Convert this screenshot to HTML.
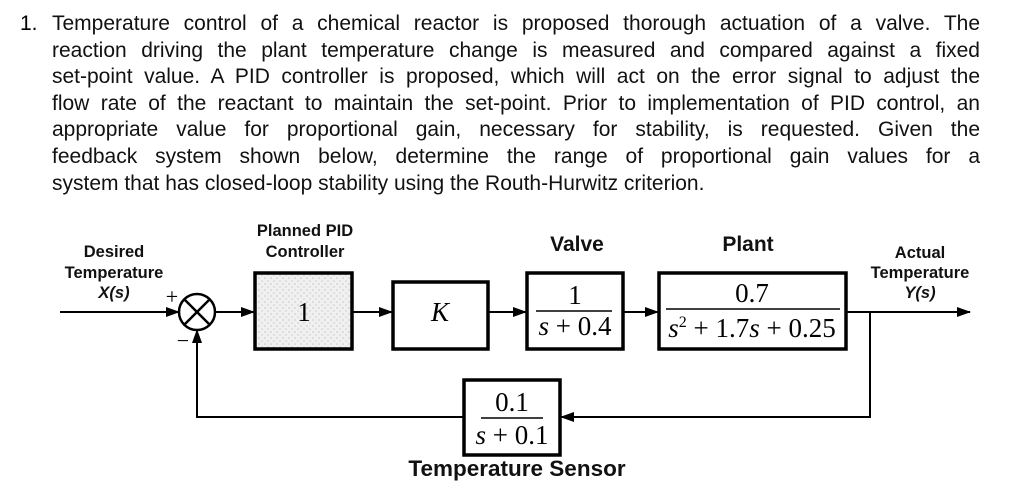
<!DOCTYPE html>
<html><head><style>
body{margin:0;width:1024px;height:489px;background:#fff;overflow:hidden;position:relative;font-family:"Liberation Sans",Arial,sans-serif}
#p{position:absolute;left:52px;top:11px;width:928px;font-size:21px;line-height:26.6px;color:#111}
#p div{text-align:justify;text-align-last:justify;white-space:nowrap}
#p div.l{text-align-last:left}
#n{position:absolute;left:20px;top:11px;font-size:21px;line-height:26.6px}
</style></head><body>
<div id="n">1.</div>
<div id="p">
<div>Temperature control of a chemical reactor is proposed thorough actuation of a valve. The</div>
<div>reaction driving the plant temperature change is measured and compared against a fixed</div>
<div>set-point value. A PID controller is proposed, which will act on the error signal to adjust the</div>
<div>flow rate of the reactant to maintain the set-point. Prior to implementation of PID control, an</div>
<div>appropriate value for proportional gain, necessary for stability, is requested. Given the</div>
<div>feedback system shown below, determine the range of proportional gain values for a</div>
<div class="l">system that has closed-loop stability using the Routh-Hurwitz criterion.</div>
</div>
<svg width="1024" height="489" style="position:absolute;left:0;top:0">
<defs>
<pattern id="dots" width="6" height="6" patternUnits="userSpaceOnUse"><rect width="6" height="6" fill="#f0f0f0"/><circle cx="1" cy="2" r="0.5" fill="#888"/><circle cx="4" cy="5" r="0.5" fill="#999"/></pattern>
<marker id="a" markerWidth="14" markerHeight="10" refX="13" refY="5" orient="auto" markerUnits="userSpaceOnUse"><path d="M0,0 L14,5 L0,10 z" fill="#000"/></marker>
</defs>
<g stroke="#000" stroke-width="2" fill="none">
<line x1="60" y1="312" x2="179" y2="312" marker-end="url(#a)"/>
<circle cx="197" cy="312" r="18" fill="#fff" stroke-width="2.5"/>
<line x1="184" y1="299" x2="210" y2="325" stroke-width="2.5"/><line x1="210" y1="299" x2="184" y2="325" stroke-width="2.5"/>
<line x1="215" y1="312" x2="254" y2="312" marker-end="url(#a)"/>
<line x1="353" y1="312" x2="392" y2="312" marker-end="url(#a)"/>
<line x1="489" y1="312" x2="526" y2="312" marker-end="url(#a)"/>
<line x1="624" y1="312" x2="658" y2="312" marker-end="url(#a)"/>
<line x1="847" y1="312" x2="970" y2="312" marker-end="url(#a)"/>
<polyline points="870,312 870,417 561,417" marker-end="url(#a)"/>
<polyline points="463,417 197,417 197,330" marker-end="url(#a)"/>
</g>
<g stroke="#000" stroke-width="3.5">
<rect x="255" y="273" width="97" height="76" fill="url(#dots)"/>
<rect x="393" y="282" width="95" height="67" fill="#fff"/>
<rect x="527" y="273" width="96" height="76" fill="#fff"/>
<rect x="659" y="273" width="187" height="76" fill="#fff"/>
<rect x="464" y="380" width="96" height="75" fill="#fff"/>
</g>
<g stroke="#000" stroke-width="1.5">
<line x1="536" y1="311" x2="612" y2="311"/>
<line x1="666" y1="309" x2="840" y2="309"/>
<line x1="481" y1="418" x2="543" y2="418"/>
</g>
<g font-family="Liberation Serif,serif" font-size="27" text-anchor="middle" fill="#000">
<text x="304" y="321">1</text>
<text x="440" y="321" font-style="italic">K</text>
<text x="575" y="304">1</text>
<text x="575" y="335"><tspan font-style="italic">s</tspan> + 0.4</text>
<text x="752" y="302">0.7</text>
<text x="752" y="337"><tspan font-style="italic">s</tspan><tspan font-size="16" dy="-10">2</tspan><tspan dy="10"> + 1.7</tspan><tspan font-style="italic">s</tspan> + 0.25</text>
<text x="512" y="411">0.1</text>
<text x="512" y="444"><tspan font-style="italic">s</tspan> + 0.1</text>
<text x="172" y="304" font-size="22">+</text>
<text x="183" y="348" font-size="22">−</text>
</g>
<g font-family="Liberation Sans,Arial,sans-serif" font-weight="bold" text-anchor="middle" fill="#111">
<text x="114" y="257" font-size="16.5">Desired</text>
<text x="114" y="278" font-size="16.5">Temperature</text>
<text x="114" y="298" font-size="16.5" font-style="italic">X(s)</text>
<text x="305" y="236" font-size="16.5">Planned PID</text>
<text x="305" y="257" font-size="16.5">Controller</text>
<text x="577" y="251" font-size="21">Valve</text>
<text x="748" y="251" font-size="21">Plant</text>
<text x="920" y="258" font-size="16.5">Actual</text>
<text x="920" y="278" font-size="16.5">Temperature</text>
<text x="920" y="298" font-size="16.5" font-style="italic">Y(s)</text>
<text x="517" y="476" font-size="22.5">Temperature Sensor</text>
</g>
</svg>
</body></html>
